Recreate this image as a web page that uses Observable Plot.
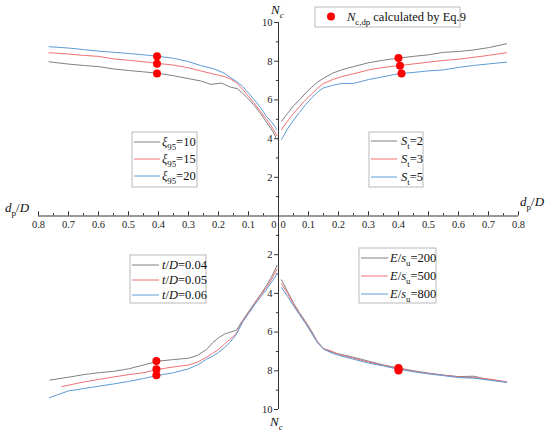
<!DOCTYPE html>
<html><head><meta charset="utf-8">
<script src="https://cdn.jsdelivr.net/npm/d3@7"></script>
<script src="https://cdn.jsdelivr.net/npm/@observablehq/plot@0.6"></script>
<style>
body{margin:0;background:#fff} svg{display:block}
svg text, svg tspan{font-family:"Liberation Serif","DejaVu Serif","Times New Roman",serif !important}
</style>
</head><body><div id="chart"></div>
<script>
// ---------- data (dp/D, Nc) ----------
// Top-left quadrant: xi95 = 10, 15, 20
const tlDpG = [0.005,0.02,0.04,0.06,0.08,0.1,0.12,0.137,0.16,0.19,0.225,0.26,0.3,0.35,0.4,0.45,0.5,0.55,0.6,0.65,0.7,0.765];
const tlNcG = [3.95,4.4,4.85,5.3,5.7,6.05,6.35,6.58,6.66,6.87,6.8,6.98,7.1,7.25,7.37,7.45,7.52,7.6,7.72,7.78,7.85,7.97];
const tlDpR = [0.005,0.02,0.04,0.06,0.08,0.1,0.12,0.14,0.16,0.18,0.215,0.26,0.3,0.35,0.4,0.45,0.5,0.55,0.6,0.65,0.7,0.765];
const tlNcR = [4.15,4.55,5.0,5.4,5.82,6.18,6.55,6.88,7.08,7.2,7.33,7.5,7.66,7.8,7.88,7.97,8.05,8.12,8.25,8.3,8.37,8.44];
const tlDpB = [0.005,0.02,0.04,0.06,0.08,0.1,0.12,0.14,0.16,0.18,0.215,0.26,0.3,0.35,0.4,0.45,0.5,0.55,0.6,0.65,0.7,0.765];
const tlNcB = [4.46,4.8,5.15,5.6,6.0,6.35,6.7,6.95,7.15,7.38,7.6,7.78,7.98,8.15,8.25,8.33,8.4,8.46,8.52,8.6,8.68,8.75];
// Top-right quadrant: St = 2, 3, 5
const trDp = [0.01,0.03,0.05,0.07,0.09,0.11,0.13,0.15,0.18,0.21,0.25,0.3,0.35,0.4,0.45,0.5,0.55,0.6,0.65,0.7,0.76];
const trNcG = [4.89,5.3,5.7,6.0,6.35,6.65,6.92,7.12,7.38,7.55,7.72,7.92,8.05,8.16,8.25,8.33,8.46,8.5,8.58,8.7,8.9];
const trNcR = [4.46,4.9,5.3,5.65,6.0,6.3,6.6,6.85,7.05,7.2,7.35,7.55,7.68,7.77,7.86,7.95,8.04,8.1,8.2,8.3,8.44];
const trNcB = [3.95,4.5,4.95,5.35,5.75,6.1,6.4,6.62,6.75,6.85,6.85,7.05,7.2,7.35,7.42,7.5,7.55,7.68,7.78,7.86,7.95];
// Bottom-left quadrant: t/D = 0.04, 0.05, 0.06
const blDpG = [0.005,0.02,0.04,0.06,0.08,0.1,0.12,0.14,0.16,0.18,0.2,0.22,0.24,0.27,0.3,0.35,0.4,0.45,0.5,0.55,0.6,0.65,0.7,0.762];
const blNcG = [2.55,3.05,3.6,4.05,4.5,4.95,5.4,5.9,6.0,6.1,6.3,6.55,6.9,7.2,7.35,7.42,7.5,7.7,7.9,8.03,8.1,8.2,8.33,8.48];
const blDpR = [0.005,0.02,0.04,0.06,0.08,0.1,0.12,0.14,0.16,0.18,0.2,0.22,0.24,0.27,0.3,0.35,0.4,0.45,0.5,0.55,0.6,0.65,0.723];
const blNcR = [2.75,3.2,3.7,4.1,4.55,5.0,5.45,6.05,6.35,6.62,6.9,7.1,7.3,7.55,7.7,7.8,7.92,8.1,8.2,8.32,8.45,8.58,8.82];
const blDpB = [0.005,0.02,0.04,0.06,0.08,0.1,0.12,0.14,0.16,0.18,0.2,0.22,0.24,0.27,0.3,0.35,0.4,0.45,0.5,0.55,0.6,0.65,0.7,0.764];
const blNcB = [3.0,3.35,3.8,4.2,4.6,5.05,5.5,6.1,6.5,6.8,7.05,7.25,7.4,7.7,7.9,8.1,8.23,8.4,8.55,8.68,8.8,8.92,9.04,9.39];
// Bottom-right quadrant: E/su = 200, 500, 800
const brDp = [0.01,0.03,0.05,0.07,0.09,0.11,0.13,0.15,0.18,0.2,0.25,0.3,0.35,0.4,0.45,0.5,0.55,0.6,0.65,0.7,0.76];
const brNcG = [3.3,3.9,4.5,5.0,5.45,5.95,6.5,6.85,7.05,7.12,7.3,7.5,7.7,7.85,8.0,8.12,8.22,8.3,8.28,8.45,8.58];
const brNcR = [3.5,4.0,4.55,5.05,5.5,6.0,6.52,6.85,7.0,7.15,7.35,7.55,7.72,7.88,8.02,8.14,8.23,8.32,8.35,8.42,8.57];
const brNcB = [3.7,4.15,4.65,5.1,5.55,6.05,6.55,6.88,7.1,7.2,7.4,7.6,7.75,7.92,8.05,8.16,8.25,8.35,8.38,8.48,8.6];
// Nc,dp calculated by Eq.9 (red dots)
const dotTL = {dp:[0.405,0.405,0.405], nc:[7.37,7.87,8.25]};
const dotTR = {dp:[0.4,0.405,0.41], nc:[8.16,7.77,7.37]};
const dotBL = {dp:[0.407,0.407,0.407], nc:[7.49,7.92,8.23]};
const dotBR = {dp:[0.4,0.4,0.4], nc:[7.85,7.92,7.98]};
// ticks
const xMajor = [0.1,0.2,0.3,0.4,0.5,0.6,0.7,0.8];
const xMinor = [0.05,0.15,0.25,0.35,0.45,0.55,0.65,0.75];
const yMajor = [2,4,6,8,10];
const yMinor = [1,3,5,7,9];

// ---------- build table ----------
const FONT = "Liberation Serif, DejaVu Serif, serif";
const COL = {g:"#808080", r:"#f07272", b:"#5e9bd8"};
const rows = [];
function add(quad, key, sx, sy, dp, nc){ dp.forEach((d,i)=>rows.push({quad, key, x:sx*d, y:sy*nc[i]})); }
add("tl","g",-1,1,tlDpG,tlNcG); add("tl","r",-1,1,tlDpR,tlNcR); add("tl","b",-1,1,tlDpB,tlNcB);
add("tr","g",1,1,trDp,trNcG); add("tr","r",1,1,trDp,trNcR); add("tr","b",1,1,trDp,trNcB);
add("bl","g",-1,-1,blDpG,blNcG); add("bl","r",-1,-1,blDpR,blNcR); add("bl","b",-1,-1,blDpB,blNcB);
add("br","g",1,-1,brDp,brNcG); add("br","r",1,-1,brDp,brNcR); add("br","b",1,-1,brDp,brNcB);
const dots = [];
[[dotTL,-1,1],[dotTR,1,1],[dotBL,-1,-1],[dotBR,1,-1]].forEach(([o,sx,sy])=>o.dp.forEach((d,i)=>dots.push({x:sx*d,y:sy*o.nc[i]})));

const AX = "#333";
const both = a => a.flatMap(v=>[v,-v]);

const plot = Plot.plot({
  width:550, height:432,
  marginLeft:38, marginRight:32, marginTop:22, marginBottom:23,
  x:{domain:[-0.8,0.8], axis:null},
  y:{domain:[-10,10], axis:null},
  color:{domain:["g","r","b"], range:[COL.g,COL.r,COL.b]},
  style:{fontFamily:FONT, background:"#fff"},
  marks:[
    Plot.ruleY([0],{x1:-0.8,x2:0.8,stroke:AX,strokeWidth:1}),
    Plot.ruleX([0],{y1:-10,y2:10,stroke:AX,strokeWidth:1}),
    Plot.ruleX(both(xMajor),{x:d=>d,y1:0,y2:0.22,stroke:AX}),
    Plot.ruleX(both(xMinor),{x:d=>d,y1:0,y2:0.12,stroke:AX}),
    Plot.ruleY(both(yMajor),{y:d=>d,x1:-0.013,x2:0,stroke:AX}),
    Plot.ruleY(both(yMinor),{y:d=>d,x1:-0.007,x2:0,stroke:AX}),
    Plot.text(both(xMajor),{x:d=>d,y:0,text:d=>Math.abs(d).toFixed(1),dy:9,fontSize:10.5,fill:"#222"}),
    Plot.text([0],{x:0,y:0,text:()=>"0",dy:9,dx:-2,textAnchor:"end",fontSize:10.5,fill:"#222"}),
    Plot.text([0],{x:0,y:0,text:()=>"0",dy:9,dx:2,textAnchor:"start",fontSize:10.5,fill:"#222"}),
    Plot.text(both(yMajor),{x:0,y:d=>d,text:d=>String(Math.abs(d)),dx:-6,textAnchor:"end",fontSize:10.5,fill:"#222"}),
    Plot.line(rows,{x:"x",y:"y",z:d=>d.quad+d.key,stroke:"key",strokeWidth:1}),
    Plot.dot(dots,{x:"x",y:"y",r:4,fill:"#ff0000",stroke:"none"})
  ]
});
document.getElementById("chart").appendChild(plot);

// ---------- rich text, titles, legends ----------
const svg = d3.select(plot);
function rich(x, y, segs, size, anchor){
  const t = svg.append("text").attr("x",x).attr("y",y).attr("font-size",size)
    .attr("font-family",FONT).attr("fill","#111").attr("text-anchor",anchor||"start");
  let shift = 0;
  for (const [s,f] of segs){
    const sub = f.includes("s");
    const ts = t.append("tspan").text(s);
    if (f.includes("i")) ts.attr("font-style","italic");
    const target = sub ? size*0.3 : 0;
    if (target !== shift){ ts.attr("dy", target-shift); shift = target; }
    if (sub) ts.attr("font-size", size*0.7);
  }
  return t;
}
rich(271,14,[["N","i"],["c","is"]],13);
rich(270,426,[["N","i"],["c","is"]],13);
rich(5,212,[["d","i"],["p","s"],["/",""],["D","i"]],13);
rich(520,206,[["d","i"],["p","s"],["/",""],["D","i"]],13);

function legend(box, lx0, lx1, tx, entries){
  svg.append("rect").attr("x",box[0]).attr("y",box[1]).attr("width",box[2]-box[0]).attr("height",box[3]-box[1])
    .attr("fill","#fff").attr("stroke","#a8a8a8").attr("stroke-width",0.8);
  for (const e of entries){
    svg.append("line").attr("x1",lx0).attr("x2",lx1).attr("y1",e.y).attr("y2",e.y).attr("stroke",COL[e.k]).attr("stroke-width",1);
    rich(tx, e.y+4, e.segs, 12.5);
  }
}
const xi = v => [["ξ","i"],["95","s"],["="+v,""]];
legend([132,132,197,187],134,160,162,[{y:142,k:"g",segs:xi(10)},{y:159,k:"r",segs:xi(15)},{y:176,k:"b",segs:xi(20)}]);
const st = v => [["S","i"],["t","s"],["="+v,""]];
legend([369,132,423,187],371,397,401,[{y:141,k:"g",segs:st(2)},{y:159,k:"r",segs:st(3)},{y:177,k:"b",segs:st(5)}]);
const td = v => [["t","i"],["/",""],["D","i"],["="+v,""]];
legend([130,255,206,303],132,159,162,[{y:265,k:"g",segs:td("0.04")},{y:280,k:"r",segs:td("0.05")},{y:295,k:"b",segs:td("0.06")}]);
const es = v => [["E","i"],["/",""],["s","i"],["u","s"],["="+v,""]];
legend([359,248,436,303],361,388,390,[{y:258,k:"g",segs:es(200)},{y:276,k:"r",segs:es(500)},{y:294,k:"b",segs:es(800)}]);

svg.append("rect").attr("x",315).attr("y",7).attr("width",145).attr("height",20)
  .attr("fill","#fff").attr("stroke","#a8a8a8").attr("stroke-width",0.8);
svg.append("circle").attr("cx",331).attr("cy",16.5).attr("r",4).attr("fill","#ff0000");
rich(347,21,[["N","i"],["c,dp","s"],[" calculated by Eq.9",""]],12.5);
</script>
</body></html>
